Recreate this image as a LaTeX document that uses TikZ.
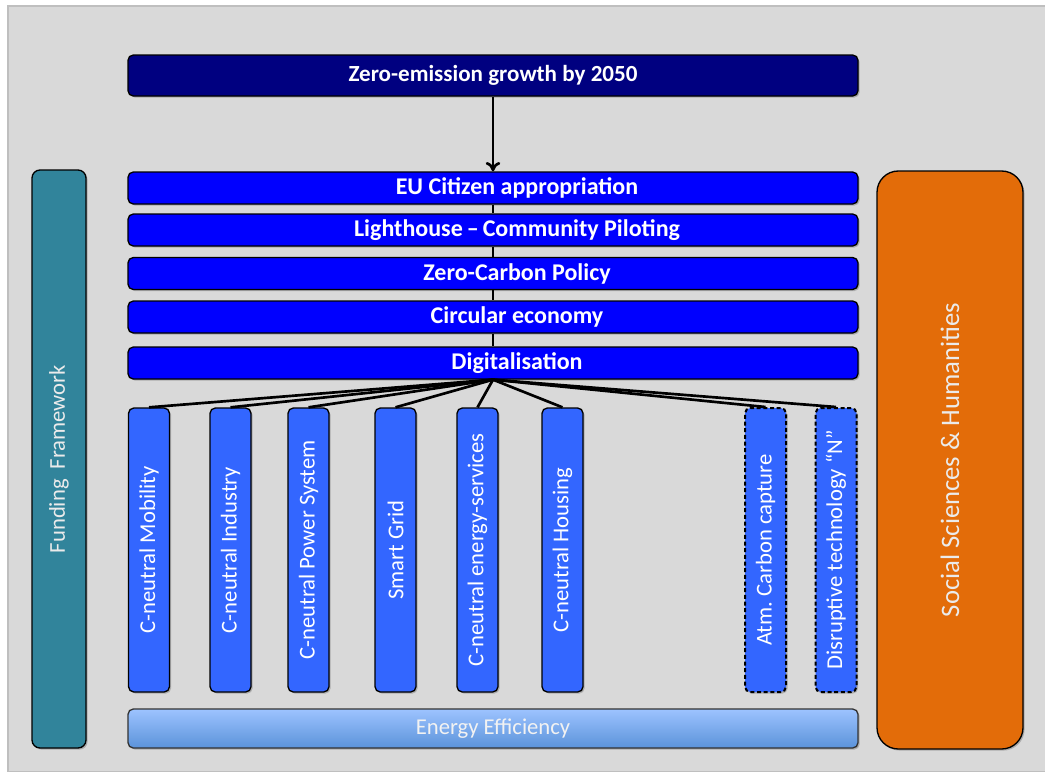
\documentclass[tikz,border=0pt]{standalone}
\usepackage{fontspec}
\setmainfont{Carlito}
\usepackage{graphicx}
\usetikzlibrary{positioning, arrows.meta, shadows}
\usepackage{color}

\definecolor{bggray}{HTML}{D9D9D9}
\definecolor{navybar}{HTML}{000080}
\definecolor{layerblue}{HTML}{0000FF}
\definecolor{pillarblue}{HTML}{3366FF}
\definecolor{fundteal}{HTML}{31849B}
\definecolor{socorange}{HTML}{E36C09}
\definecolor{efftop}{HTML}{9DC3FF}
\definecolor{effbot}{HTML}{5B93DA}

\tikzset{
  boxshadow/.style={drop shadow={opacity=0.5, shadow xshift=1.2pt, shadow yshift=-1.2pt}},
  goalbar/.style={draw=black, fill=navybar, rounded corners=4pt, boxshadow,
    minimum width=547.5pt, minimum height=30.75pt, text=white,
    font=\fontsize{17.3}{20}\selectfont\bfseries},
  layerbar/.style={draw=black, fill=layerblue, rounded corners=4pt, boxshadow,
    minimum width=547.5pt, minimum height=24pt, inner sep=0pt, text=white,
    font=\fontsize{18}{21}\selectfont\bfseries,
    execute at begin node={\hspace*{36pt}}},
  pillar/.style={draw=black, fill=pillarblue, rounded corners=4pt, boxshadow,
    minimum width=30.75pt, minimum height=213pt, inner sep=0pt, text=white,
    font=\fontsize{17}{20}\selectfont},
  optpillar/.style={pillar, dash pattern=on 3pt off 2pt, line width=1.5pt},
  sidebar/.style={draw=black, rounded corners=6pt, boxshadow,
    minimum height=433.5pt, inner sep=0pt, text=white!92!black,
    font=\fontsize{17}{20}\selectfont},
  effbar/.style={draw=black!80, top color=efftop, bottom color=effbot,
    rounded corners=4pt, boxshadow, minimum width=547.5pt,
    minimum height=29.25pt, text=white!95!black,
    font=\fontsize{17}{20}\selectfont},
  link/.style={draw, line width=2pt}
}

\begin{document}
\begin{tikzpicture}[x=0.75pt, y=-0.75pt, line width=1pt]
  \useasboundingbox (0,0) rectangle (1045,771);
  \fill[white] (0,0) rectangle (1045,771);
  \fill[bggray, draw=black!25] (8,6) rectangle (1046,772);

  \node[goalbar]  (goal)  at (493,75.5) {Zero-emission growth by 2050};
  \node[layerbar] (citizen)    at (493,188)   {EU Citizen appropriation};
  \node[layerbar] (lighthouse) at (493,230)   {Lighthouse\,--\,Community Piloting};
  \node[layerbar] (policy)     at (493,273.5) {Zero-Carbon Policy};
  \node[layerbar] (circular)   at (493,317)   {Circular economy};
  \node[layerbar] (digital)    at (493,363)   {Digitalisation};

  \node[pillar]    (mobility) at (149,550)   {\rotatebox{90}{C-neutral Mobility}};
  \node[pillar]    (industry) at (230.5,550) {\rotatebox{90}{C-neutral Industry}};
  \node[pillar]    (power)    at (308.5,550) {\rotatebox{90}{C-neutral Power System}};
  \node[pillar]    (grid)     at (395.5,550) {\rotatebox{90}{Smart Grid}};
  \node[pillar]    (services) at (477.5,550) {\rotatebox{90}{C-neutral energy-services}};
  \node[pillar]    (housing)  at (562.5,550) {\rotatebox{90}{C-neutral Housing}};
  \node[optpillar] (capture)  at (765.5,550) {\rotatebox{90}{Atm.\ Carbon capture}};
  \node[optpillar] (disrupt)  at (836,550)   {\rotatebox{90}{Disruptive technology ``N''}};

  \node[effbar] (efficiency) at (493,728.5) {Energy Efficiency};
  \node[sidebar, fill=fundteal, minimum width=40.5pt] (funding) at (59,459)
    {\rotatebox{90}{Funding\ \ Framework}};
  \node[sidebar, fill=socorange, rounded corners=16pt, minimum width=109.5pt,
    font=\fontsize{20}{24}\selectfont] (social) at (950,460)
    {\rotatebox{90}{Social Sciences \& Humanities}};

  \path
    % goal -> first layer
    (goal) edge[link, -{To[length=7pt, width=11pt]}] (citizen)
    % layers stacked one on the other
    (citizen)    edge[link] (lighthouse)
    (lighthouse) edge[link] (policy)
    (policy)     edge[link] (circular)
    (circular)   edge[link] (digital);

  % digitalisation fans out to every pillar
  \foreach \p in {mobility, industry, power, grid, services, housing, capture, disrupt}
    \draw[link] (digital.south) -- (\p.north);

\end{tikzpicture}
\end{document}
